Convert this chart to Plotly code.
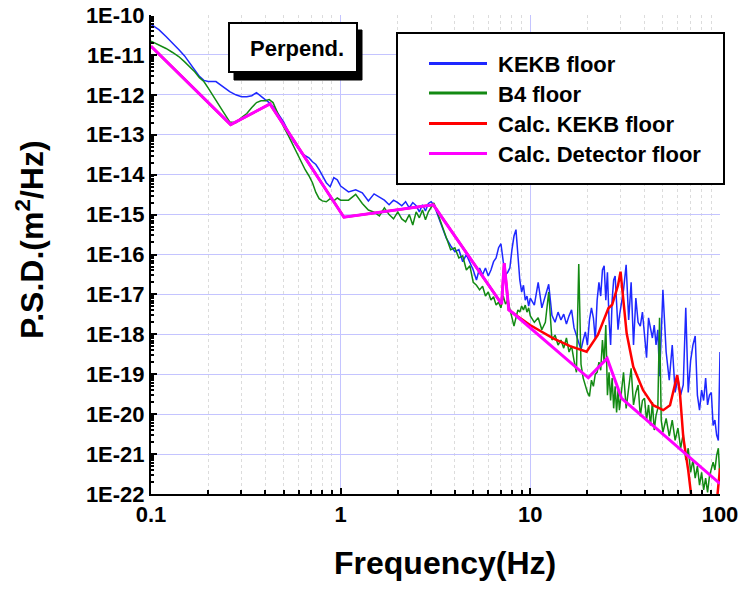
import plotly.graph_objects as go

# ---- measured spectra (shared frequency axis, Hz) ----
freq_meas = [
    0.10, 0.11, 0.12, 0.13, 0.14, 0.15, 0.16, 0.17, 0.18, 0.19, 0.20, 0.22, 0.24, 0.26,
    0.28, 0.30, 0.32, 0.34, 0.36, 0.38, 0.40, 0.42, 0.44, 0.46, 0.48, 0.50, 0.53, 0.56,
    0.59, 0.62, 0.65, 0.68, 0.71, 0.74, 0.77, 0.80, 0.84, 0.88, 0.92, 0.96, 1.00,
    1.1, 1.2, 1.3, 1.4, 1.5, 1.6, 1.7, 1.8, 1.9, 2.0, 2.1, 2.2, 2.3, 2.4, 2.5, 2.6,
    2.7, 2.8, 2.9, 3.0, 3.1,
    3.2, 3.4, 3.6, 3.8, 4.0, 4.2, 4.4, 4.6, 4.8, 5.0, 5.2, 5.4, 5.6, 5.8, 6.0, 6.2,
    6.4, 6.6, 6.8, 7.0, 7.2, 7.4, 7.6, 7.8, 8.0, 8.2, 8.4, 8.6, 8.8, 9.0, 9.2, 9.4,
    9.6, 9.8, 10.0,
    10.5, 11, 11.5, 12, 12.5, 13, 13.5, 14, 14.5, 15, 15.5, 16, 16.5, 17, 17.5, 18,
    18.5, 19, 19.5, 20, 20.5, 21, 21.5, 22, 22.5, 23, 23.5, 24, 24.5, 25, 25.5, 26,
    26.5, 27, 27.5, 28, 28.5, 29, 29.5, 30,
    31, 32, 33, 34, 35, 36, 37, 38, 39, 40, 41, 42, 43, 44, 45, 46, 47, 48, 49, 50,
    52, 54, 56, 58, 60, 62, 64, 66, 68, 70, 72, 74, 76, 78, 80, 82, 84, 86, 88, 90,
    92, 94, 96, 98, 100,
]

psd_kekb_floor = [
    5.8e-11, 4.3e-11, 2.9e-11, 2.0e-11, 1.36e-11, 9.6e-12, 6.4e-12, 4.3e-12, 2.9e-12, 2.3e-12,
    2.15e-12, 2.15e-12, 1.6e-12, 1.2e-12, 1.0e-12, 9.0e-13, 9.0e-13, 9.5e-13, 1.14e-12, 9.5e-13,
    7.6e-13, 6.4e-13, 5.1e-13, 3.8e-13, 2.8e-13, 2.1e-13, 1.2e-13, 7.1e-14, 5.0e-14, 3.5e-14,
    3.0e-14, 2.65e-14, 2.1e-14, 1.8e-14, 1.33e-14, 9.4e-15, 6.3e-15, 5.0e-15, 8.4e-15, 7.4e-15,
    5.2e-15,
    3.7e-15, 4.2e-15, 3.5e-15, 2.2e-15, 3.3e-15, 2.8e-15, 2.3e-15, 1.76e-15, 2.3e-15, 2.0e-15,
    1.66e-15, 2.1e-15, 1.48e-15, 2.0e-15, 1.66e-15, 1.17e-15, 1.76e-15, 1.23e-15, 1.9e-15, 2.1e-15,
    1.76e-15,
    1.17e-15, 5.2e-16, 2.6e-16, 1.66e-16, 1.17e-16, 1.32e-16, 6.6e-17, 9.9e-17, 6.6e-17, 4.1e-17,
    2.3e-17, 4.6e-17, 3.1e-17, 4.6e-17, 2.9e-17, 4.1e-17, 6.6e-17, 8.2e-17, 1.48e-16, 1.86e-16,
    6.6e-17, 3.1e-17, 3.6e-17, 4.6e-17, 1.32e-16, 2.9e-16, 4.2e-16, 9.9e-17, 2.3e-17, 1.15e-17,
    1.7e-17, 7.2e-18, 9.1e-18, 5.1e-18, 8.1e-18,
    5.4e-18, 2.0e-17, 4.6e-18, 9.1e-18, 1.8e-17, 3.0e-18, 2.0e-18, 3.6e-18, 2.3e-18, 3.2e-18,
    1.8e-18, 2.9e-18, 4.1e-18, 1.45e-18, 9.1e-19, 5.8e-19, 4.1e-19, 7.2e-19, 1.15e-18, 5.4e-19,
    2.3e-18, 4.6e-18, 2.6e-18, 7.2e-19, 7.2e-18, 2.0e-17, 9.1e-18, 4.1e-17, 5.2e-17, 7.2e-18,
    3.6e-17, 2.3e-18, 5.4e-19, 7.2e-18, 2.3e-17, 2.9e-17, 4.1e-18, 1.3e-18, 2.9e-18, 5.1e-18,
    1.3e-17, 5.5e-17, 2.3e-18, 2.0e-17, 5.4e-19, 8.1e-18, 2.0e-18, 1.6e-18, 3.6e-18, 9.6e-19,
    2.6e-19, 2.6e-18, 1.3e-18, 8.1e-19, 1.7e-18, 5.4e-19, 1.3e-18, 8.9e-20, 9.6e-19, 1.3e-17,
    3.6e-19, 7.1e-20, 5.4e-19, 3.5e-20, 8.0e-20, 3.0e-20, 5.4e-20, 4.6e-18, 3.5e-20, 2.2e-19,
    5.4e-19, 9.1e-19, 3.0e-20, 1.26e-20, 4.0e-20, 2.2e-20, 8.0e-20, 1.7e-20, 3.0e-20, 3.5e-20,
    5.2e-21, 7.1e-21, 3.0e-21, 2.2e-21, 3.6e-19,
]

psd_b4_floor = [
    2.2e-11, 1.8e-11, 1.45e-11, 1.15e-11, 9.1e-12, 6.8e-12, 5.1e-12, 3.8e-12, 2.7e-12, 2.15e-12,
    1.5e-12, 7.6e-13, 3.8e-13, 2.1e-13, 2.0e-13, 2.7e-13, 3.4e-13, 4.8e-13, 6.4e-13, 7.1e-13,
    7.1e-13, 7.6e-13, 6.4e-13, 4.0e-13, 2.5e-13, 1.6e-13, 9.5e-14, 5.6e-14, 3.2e-14, 2.0e-14,
    1.33e-14, 9.4e-15, 6.3e-15, 3.6e-15, 2.5e-15, 2.2e-15, 2.1e-15, 2.5e-15, 2.2e-15, 2.6e-15,
    2.3e-15,
    2.3e-15, 3.2e-15, 1.9e-15, 1.3e-15, 1.15e-15, 9.3e-16, 1.48e-15, 1.0e-15, 7.8e-16, 1.17e-15,
    7.8e-16, 6.6e-16, 1.0e-15, 5.5e-16, 1.17e-15, 8.3e-16, 1.3e-15, 7.4e-16, 1.17e-15, 1.48e-15,
    1.95e-15,
    1.3e-15, 5.9e-16, 2.6e-16, 1.32e-16, 1.48e-16, 8.2e-17, 9.2e-17, 4.1e-17, 5.2e-17, 2.0e-17,
    1.7e-17, 1.3e-17, 1.6e-17, 9.1e-18, 1.15e-17, 7.2e-18, 8.7e-18, 5.4e-18, 6.4e-18, 4.6e-18,
    9.1e-18, 5.7e-18, 7.2e-18, 4.1e-18, 2.9e-18, 1.6e-18, 2.6e-18, 4.1e-18, 3.6e-18, 5.1e-18,
    4.1e-18, 5.4e-18, 3.6e-18, 4.6e-18, 2.9e-18,
    2.0e-18, 2.6e-18, 1.3e-18, 2.0e-18, 1.15e-17, 7.2e-19, 9.6e-19, 5.4e-19, 7.2e-19, 4.5e-19,
    8.1e-19, 3.6e-19, 5.1e-19, 2.2e-19, 1.12e-19, 5.8e-17, 1.78e-19, 8.0e-20, 5.4e-20, 3.5e-20,
    2.8e-20, 7.1e-20, 5.0e-20, 1.0e-19, 1.12e-19, 2.0e-19, 1.26e-19, 7.2e-19, 2.0e-19, 1.7e-18,
    3.0e-20, 1.12e-19, 2.2e-20, 8.0e-20, 1.4e-20, 5.0e-20, 1.1e-20, 4.0e-20, 1.26e-20, 3.0e-20,
    1.12e-19, 1.4e-20, 4.0e-20, 1.4e-19, 1.7e-20, 3.5e-20, 5.4e-20, 8.9e-21, 2.2e-20, 2.5e-20,
    7.1e-21, 1.7e-20, 5.2e-21, 2.0e-20, 4.0e-21, 9.3e-21, 1.4e-20, 2.6e-18, 7.1e-21, 3.5e-21,
    7.8e-21, 2.8e-21, 7.1e-21, 2.2e-21, 4.5e-21, 1.4e-21, 3.2e-21, 7.1e-22, 1.4e-21, 3.5e-22,
    7.1e-22, 2.5e-22, 5.0e-22, 1.66e-22, 3.5e-22, 1.26e-22, 2.5e-22, 1.1e-22, 2.8e-22, 4.0e-22,
    6.3e-22, 4.0e-22, 9.3e-22, 1.4e-21, 2.2e-22,
]

# ---- calculated spectra ----
freq_calc_kekb = [
    0.1, 0.263, 0.424, 1.04, 3.08, 7.06, 7.28, 7.7, 8.13, 9.96, 13.2, 16.2, 19.8, 22.7,
    25.8, 27.0, 29.0, 29.9, 31.0, 32.2, 34.9, 39.3, 44.4, 50.2, 54.5, 57.8, 59.5, 61.5,
    64.0, 68.0, 72.0, 88.5, 100,
]
psd_calc_kekb = [
    1.65e-11, 1.79e-13, 5.9e-13, 8.6e-16, 1.76e-15, 5.75e-18, 6.05e-17, 4.1e-18, 3.37e-18,
    1.71e-18, 7.94e-19, 5.08e-19, 3.66e-19, 9.6e-19, 4.5e-18, 5.5e-18, 1.7e-17, 3.72e-17,
    6.5e-18, 1.06e-18, 1.54e-19, 4.0e-20, 1.68e-20, 1.26e-20, 1.68e-20, 5.9e-20, 9.5e-20,
    3.3e-20, 2.7e-21, 3.9e-22, 3.9e-23, 1.0e-24, 4.4e-22,
]

freq_calc_det = [0.1, 0.263, 0.424, 1.04, 3.08, 7.06, 7.28, 7.7, 8.13, 20.2, 25.4, 30.3, 100]
psd_calc_det = [
    1.65e-11, 1.79e-13, 5.9e-13, 8.6e-16, 1.76e-15, 5.75e-18, 6.05e-17, 4.1e-18, 3.37e-18,
    8.15e-20, 2.5e-19, 2.48e-20, 1.82e-22,
]

series_names = ["KEKB floor", "B4 floor", "Calc. KEKB floor", "Calc. Detector floor"]
series_colors = ["#1e28ff", "#138a13", "#ff0000", "#ff00ff"]
series_widths = [1.5, 1.5, 2.5, 3]

y_exponents = list(range(-22, -9))
y_tickvals = [10.0 ** e for e in y_exponents]
y_ticktext = ["1E%d" % e for e in y_exponents]
x_tickvals = [0.1, 1, 10, 100]
x_ticktext = ["0.1", "1", "10", "100"]

FONT = "Arial, Liberation Sans, sans-serif"


def px(x):
    """pixel x -> paper coordinate (plot area spans x 151..720)"""
    return (x - 151) / 569.0


def py(y):
    """pixel y -> paper coordinate (plot area spans y 15..494)"""
    return (494 - y) / 479.0


def bold(size):
    return dict(family=FONT, size=size, color="black", weight="bold")


fig = go.Figure()
data = [
    (freq_meas, psd_kekb_floor),
    (freq_meas, psd_b4_floor),
    (freq_calc_kekb, psd_calc_kekb),
    (freq_calc_det, psd_calc_det),
]
for (fx, fy), name, color, width in zip(data, series_names, series_colors, series_widths):
    fig.add_trace(go.Scatter(
        x=fx, y=fy, mode="lines", name=name,
        line=dict(color=color, width=width),
        showlegend=False,
    ))

minor_y = [m * 10.0 ** e for e in range(-22, -10) for m in range(2, 10)]
minor_x = [m * 10.0 ** e for e in range(-1, 2) for m in range(2, 10)]

axis_common = dict(
    type="log",
    showline=True, linecolor="black", linewidth=2,
    ticks="inside", ticklen=6, tickwidth=1.5, tickcolor="black",
    showgrid=True, gridcolor="#c4c4ff", gridwidth=1,
    zeroline=False,
    tickmode="array",
    tickfont=bold(22),
)

fig.update_layout(
    width=749, height=592,
    margin=dict(l=151, r=29, t=15, b=98, autoexpand=False),
    paper_bgcolor="white", plot_bgcolor="white",
    showlegend=False,
    xaxis=dict(
        axis_common, range=[-1, 2],
        tickvals=x_tickvals, ticktext=x_ticktext,
        minor=dict(tickmode="array", tickvals=minor_x, ticks="inside", ticklen=4,
                   tickcolor="black", showgrid=True, gridcolor="#dcdcdc", griddash="dot"),
    ),
    yaxis=dict(
        axis_common, range=[-22, -10],
        tickvals=y_tickvals, ticktext=y_ticktext,
        minor=dict(tickmode="array", tickvals=minor_y, ticks="inside", ticklen=3,
                   tickcolor="black", showgrid=False),
    ),
)

shapes = []
annotations = []

# "Perpend." label box with drop shadow
shapes.append(dict(type="rect", xref="paper", yref="paper",
                   x0=px(234), x1=px(362), y0=py(80), y1=py(30),
                   fillcolor="black", line=dict(color="black", width=1)))
shapes.append(dict(type="rect", xref="paper", yref="paper",
                   x0=px(229), x1=px(357), y0=py(72), y1=py(23),
                   fillcolor="white", line=dict(color="black", width=2)))
annotations.append(dict(text="Perpend.", xref="paper", yref="paper",
                        x=px(297), y=py(48), xanchor="center", yanchor="middle",
                        showarrow=False, font=bold(22)))

# legend box
shapes.append(dict(type="rect", xref="paper", yref="paper",
                   x0=px(397), x1=px(724), y0=py(184), y1=py(33),
                   fillcolor="white", line=dict(color="black", width=2)))
row_y = [63.5, 93, 123.5, 153.5]
for name, color, ry in zip(series_names, series_colors, row_y):
    shapes.append(dict(type="line", xref="paper", yref="paper",
                       x0=px(429), x1=px(487), y0=py(ry), y1=py(ry),
                       line=dict(color=color, width=3)))
    annotations.append(dict(text=name, xref="paper", yref="paper",
                            x=px(496), y=py(ry + 1), xanchor="left", yanchor="middle",
                            showarrow=False, font=bold(22)))

# axis titles
annotations.append(dict(text="Frequency(Hz)", xref="paper", yref="paper",
                        x=px(445), y=py(563), xanchor="center", yanchor="middle",
                        showarrow=False, font=bold(32)))
annotations.append(dict(text="P.S.D.(m<sup>2</sup>/Hz)", xref="paper", yref="paper",
                        x=px(30), y=py(240), xanchor="center", yanchor="middle",
                        textangle=-90, showarrow=False, font=bold(32)))

fig.update_layout(shapes=shapes, annotations=annotations)

# drop the default body margin so the figure sits at the page origin
fig.write_html("out.html", config={"displayModeBar": False},
               post_script="document.body.style.margin='0';")
